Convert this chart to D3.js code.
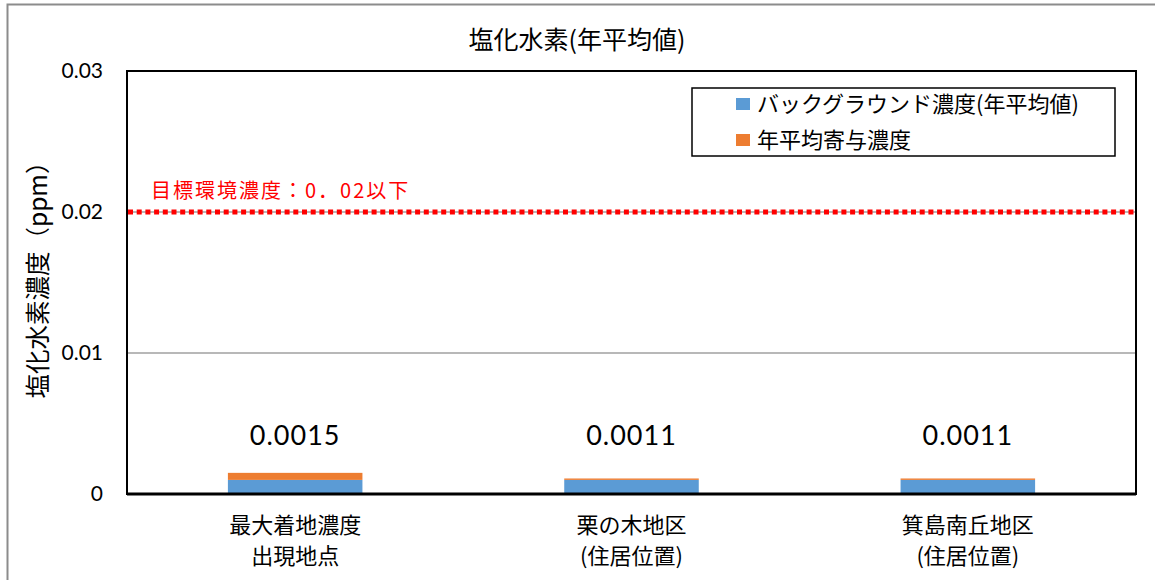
<!DOCTYPE html>
<html><head><meta charset="utf-8">
<script src="https://cdn.jsdelivr.net/npm/d3@7"></script>
<style>
body{margin:0;background:#fff;}
svg{display:block;font-family:Lato,"Noto Sans CJK JP",sans-serif;}
</style></head>
<body><svg id="c" width="1155" height="580"></svg>
<script>
const categories = [["最大着地濃度","出現地点"],["栗の木地区","(住居位置)"],["箕島南丘地区","(住居位置)"]];
const seriesNames = ["バックグラウンド濃度(年平均値)","年平均寄与濃度"];
const background = [0.001, 0.001, 0.001];
const contribution = [0.0005, 0.0001, 0.0001];
const totalLabels = ["0.0015","0.0011","0.0011"];
const yTicks = [0, 0.01, 0.02, 0.03];
const yTickLabels = ["0","0.01","0.02","0.03"];
const targetValue = 0.02;
const targetLabel = "目標環境濃度：0．02以下";
const colors = ["#5B9BD5","#ED7D31"];

const svg = d3.select("#c");
// outer frame
svg.append("path").attr("d","M7.5,580 V4.5 H1155").attr("fill","none").attr("stroke","#8c8c8c").attr("stroke-width",2);

const L=127,R=1136,T=71,B=494;
const x = d3.scaleBand().domain(d3.range(categories.length)).range([L,R]).paddingInner(0.6).paddingOuter(0.3);
const y = d3.scaleLinear().domain([0,0.03]).range([B,T]);

// gridlines
svg.append("g").selectAll("line").data(yTicks.filter(v=>v>0 && v<0.03)).join("line")
  .attr("x1",L).attr("x2",R).attr("y1",d=>y(d)).attr("y2",d=>y(d))
  .attr("stroke","#a0a0a0").attr("stroke-width",1.5);

// stacked bars
const stack = d3.stack().keys([0,1]).value((d,k)=>k===0?background[d]:contribution[d]);
const layers = stack(d3.range(categories.length));
svg.append("g").selectAll("g").data(layers).join("g").attr("fill",(d,i)=>colors[i])
  .selectAll("rect").data(d=>d).join("rect")
  .attr("x",(d,i)=>x(i)).attr("width",x.bandwidth())
  .attr("y",d=>y(d[1])).attr("height",d=>y(d[0])-y(d[1]));

// target line
svg.append("line").attr("x1",L+1).attr("x2",R).attr("y1",y(targetValue)).attr("y2",y(targetValue))
  .attr("stroke","#ff0000").attr("stroke-width",5).attr("stroke-dasharray","5,3.7");
svg.append("text").attr("x",151).attr("y",y(targetValue)-14).attr("fill","#ff0000")
  .attr("font-size",20).attr("letter-spacing",2).attr("font-family","'Noto Sans CJK JP'").text(targetLabel);

// plot border
svg.append("rect").attr("x",L).attr("y",T).attr("width",R-L).attr("height",B-T)
  .attr("fill","none").attr("stroke","#000").attr("stroke-width",2);
svg.append("line").attr("x1",L).attr("x2",R).attr("y1",B).attr("y2",B).attr("stroke","#000").attr("stroke-width",3);

// y axis
const yAxis = d3.axisLeft(y).tickValues(yTicks).tickFormat((d,i)=>yTickLabels[i]).tickSize(0).tickPadding(24);
const ga = svg.append("g").attr("transform",`translate(${L},0)`).call(yAxis);
ga.select(".domain").remove();
ga.selectAll("text").attr("font-size",21).attr("font-family","Lato,sans-serif").attr("fill","#000");

// y title
svg.append("text").attr("transform","translate(47,274) rotate(-90)").attr("text-anchor","middle")
  .attr("font-size",24.5).attr("font-family","'Noto Sans CJK JP'").text("塩化水素濃度（ppm）");

// title
svg.append("text").attr("x",577).attr("y",49).attr("text-anchor","middle")
  .attr("font-size",25).attr("font-family","'Noto Sans CJK JP'").text("塩化水素(年平均値)");

// value labels
svg.append("g").selectAll("text").data(totalLabels).join("text")
  .attr("x",(d,i)=>x(i)+x.bandwidth()/2).attr("y",445).attr("text-anchor","middle")
  .attr("font-size",27).attr("letter-spacing",1).text(d=>d);

// category labels
const cg = svg.append("g").selectAll("text").data(categories).join("text")
  .attr("text-anchor","middle").attr("font-size",22).attr("font-family","'Noto Sans CJK JP'");
cg.selectAll("tspan").data((d,i)=>d.map(t=>({t,i}))).join("tspan")
  .attr("x",d=>x(d.i)+x.bandwidth()/2).attr("y",(d,j)=>533+j*31).text(d=>d.t);

// legend
const lg = svg.append("g");
lg.append("rect").attr("x",692).attr("y",88).attr("width",423).attr("height",68)
  .attr("fill","#fff").attr("stroke","#000").attr("stroke-width",1.5);
seriesNames.forEach((n,i)=>{
  lg.append("rect").attr("x",736).attr("y",98+i*36).attr("width",14).attr("height",12).attr("fill",colors[i]);
  lg.append("text").attr("x",757).attr("y",112+i*36).attr("font-size",22)
    .attr("font-family","'Noto Sans CJK JP'").text(n);
});
</script></body></html>
